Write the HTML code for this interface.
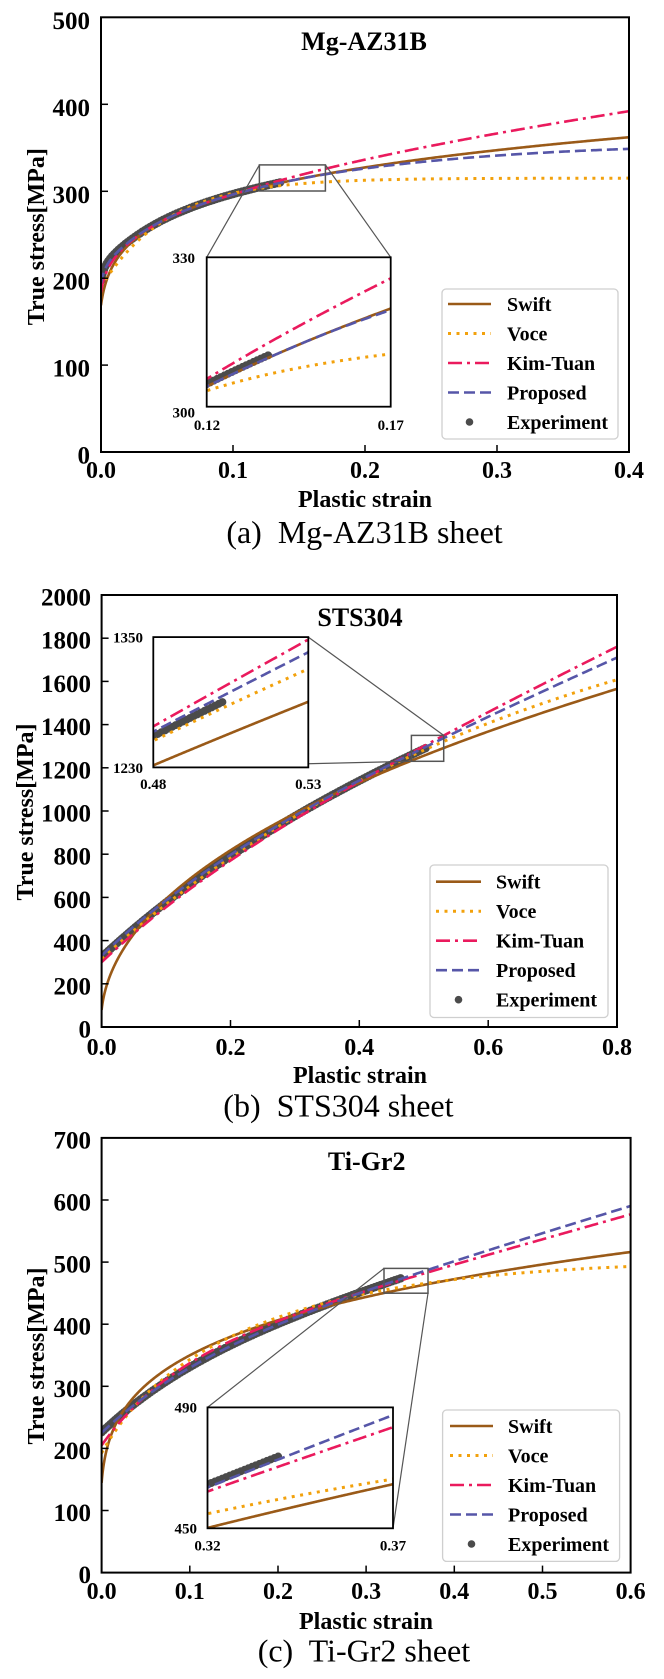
<!DOCTYPE html>
<html><head><meta charset="utf-8">
<style>
html,body{margin:0;padding:0;background:#fff;}
svg{display:block;}
text{font-family:"Liberation Serif","Times New Roman",serif;fill:#000;}
.b{font-weight:bold;}
.yt{font-size:25px;font-weight:bold;text-anchor:end;}
.xt{font-size:24px;font-weight:bold;text-anchor:middle;}
.al{font-size:24px;font-weight:bold;text-anchor:middle;}
.ti{font-size:26px;font-weight:bold;text-anchor:middle;}
.cap{font-size:32px;text-anchor:middle;white-space:pre;}
.it{font-size:15px;font-weight:bold;}
.lg{font-size:20px;font-weight:bold;}
</style></head>
<body>
<svg id="s" width="664" height="1679" viewBox="0 0 664 1679" xmlns="http://www.w3.org/2000/svg">
<defs>
<clipPath id="ca"><rect x="101" y="17.3" width="528" height="434.7"/></clipPath>
<clipPath id="cai"><rect x="206.7" y="257.3" width="184" height="149.4"/></clipPath>
<clipPath id="cb"><rect x="101.6" y="595" width="515.4" height="432"/></clipPath>
<clipPath id="cbi"><rect x="153.3" y="637.1" width="155" height="130.3"/></clipPath>
<clipPath id="cc"><rect x="101.6" y="1137.9" width="529" height="434.7"/></clipPath>
<clipPath id="cci"><rect x="207.5" y="1407.4" width="185.5" height="120.9"/></clipPath>
</defs>
<rect x="0" y="0" width="664" height="1679" fill="#fff"/>

<!-- ================= PANEL A ================= -->
<g id="ga" clip-path="url(#ca)"></g>
<rect x="101" y="17.3" width="528" height="434.7" fill="none" stroke="#000" stroke-width="2"/>
<g stroke="#000" stroke-width="1.5">
<line x1="233" y1="452" x2="233" y2="445"/><line x1="365" y1="452" x2="365" y2="445"/><line x1="497" y1="452" x2="497" y2="445"/>
<line x1="101" y1="104.3" x2="108" y2="104.3"/><line x1="101" y1="191.3" x2="108" y2="191.3"/><line x1="101" y1="278.2" x2="108" y2="278.2"/><line x1="101" y1="365.1" x2="108" y2="365.1"/>
</g>
<rect x="259.4" y="164.9" width="66" height="26.1" fill="none" stroke="#555" stroke-width="1.5"/>
<g stroke="#555" stroke-width="1.2">
<line x1="259.4" y1="164.9" x2="206.7" y2="257.3"/>
<line x1="325.4" y1="164.9" x2="390.7" y2="257.3"/>
</g>
<rect x="206.7" y="257.3" width="184" height="149.4" fill="#fff"/>
<g id="gai" clip-path="url(#cai)"></g>
<rect x="206.7" y="257.3" width="184" height="149.4" fill="none" stroke="#000" stroke-width="1.8"/>
<text class="it" x="195" y="263" text-anchor="end">330</text>
<text class="it" x="195" y="417.5" text-anchor="end">300</text>
<text class="it" x="207" y="430" text-anchor="middle">0.12</text>
<text class="it" x="390.7" y="430" text-anchor="middle">0.17</text>
<!-- legend a -->
<rect x="442" y="289" width="176" height="150" rx="4" fill="#fff" stroke="#cfcfcf" stroke-width="1.3"/>
<line x1="448" y1="304" x2="491" y2="304" stroke="#9a5a18" stroke-width="2.6"/>
<line x1="448" y1="333.5" x2="491" y2="333.5" stroke="#f2a10c" stroke-width="3" stroke-dasharray="3 5.5"/>
<line x1="448" y1="363" x2="491" y2="363" stroke="#ea1a5d" stroke-width="2.6" stroke-dasharray="14 5 3 5"/>
<line x1="448" y1="392.5" x2="491" y2="392.5" stroke="#5656a8" stroke-width="2.6" stroke-dasharray="11 5"/>
<circle cx="469.5" cy="422" r="3.8" fill="#4b4b4b"/>
<text class="lg" x="507" y="311">Swift</text>
<text class="lg" x="507" y="340.5">Voce</text>
<text class="lg" x="507" y="370">Kim-Tuan</text>
<text class="lg" x="507" y="399.5">Proposed</text>
<text class="lg" x="507" y="429">Experiment</text>
<!-- ticks labels a -->
<text class="yt" x="90" y="28.8">500</text>
<text class="yt" x="90" y="115.8">400</text>
<text class="yt" x="90" y="202.8">300</text>
<text class="yt" x="90" y="289.7">200</text>
<text class="yt" x="90" y="376.6">100</text>
<text class="yt" x="90" y="463.5">0</text>
<text class="xt" x="101" y="478">0.0</text>
<text class="xt" x="233" y="478">0.1</text>
<text class="xt" x="365" y="478">0.2</text>
<text class="xt" x="497" y="478">0.3</text>
<text class="xt" x="629" y="478">0.4</text>
<text class="al" x="365" y="507">Plastic strain</text>
<text class="al" transform="translate(44 236.7) rotate(-90)" x="0" y="0">True stress[MPa]</text>
<text class="ti" x="364" y="50">Mg-AZ31B</text>
<text class="cap" x="364.5" y="543">(a)  Mg-AZ31B sheet</text>

<!-- ================= PANEL B ================= -->
<g id="gb" clip-path="url(#cb)"></g>
<rect x="101.6" y="595" width="515.4" height="432" fill="none" stroke="#000" stroke-width="2"/>
<g stroke="#000" stroke-width="1.5">
<line x1="230.5" y1="1027" x2="230.5" y2="1020"/><line x1="359.3" y1="1027" x2="359.3" y2="1020"/><line x1="488.2" y1="1027" x2="488.2" y2="1020"/>
<line x1="101.6" y1="983.8" x2="108.6" y2="983.8"/><line x1="101.6" y1="940.6" x2="108.6" y2="940.6"/><line x1="101.6" y1="897.4" x2="108.6" y2="897.4"/>
<line x1="101.6" y1="854.2" x2="108.6" y2="854.2"/><line x1="101.6" y1="811" x2="108.6" y2="811"/><line x1="101.6" y1="767.8" x2="108.6" y2="767.8"/>
<line x1="101.6" y1="724.6" x2="108.6" y2="724.6"/><line x1="101.6" y1="681.4" x2="108.6" y2="681.4"/><line x1="101.6" y1="638.2" x2="108.6" y2="638.2"/>
</g>
<rect x="411.4" y="735.4" width="32.3" height="25.9" fill="none" stroke="#555" stroke-width="1.5"/>
<g stroke="#555" stroke-width="1.2">
<line x1="308.3" y1="637.1" x2="443.7" y2="735.4"/>
<line x1="153.3" y1="767.4" x2="411.4" y2="761.3"/>
</g>
<rect x="153.3" y="637.1" width="155" height="130.3" fill="#fff"/>
<g id="gbi" clip-path="url(#cbi)"></g>
<rect x="153.3" y="637.1" width="155" height="130.3" fill="none" stroke="#000" stroke-width="1.8"/>
<text class="it" x="143" y="642.5" text-anchor="end">1350</text>
<text class="it" x="143" y="773" text-anchor="end">1230</text>
<text class="it" x="153.3" y="789" text-anchor="middle">0.48</text>
<text class="it" x="308.3" y="789" text-anchor="middle">0.53</text>
<!-- legend b -->
<rect x="430" y="865" width="178" height="152.5" rx="4" fill="#fff" stroke="#cfcfcf" stroke-width="1.3"/>
<line x1="436" y1="881.7" x2="481" y2="881.7" stroke="#9a5a18" stroke-width="2.6"/>
<line x1="436" y1="911.2" x2="481" y2="911.2" stroke="#f2a10c" stroke-width="3" stroke-dasharray="3 5.5"/>
<line x1="436" y1="940.7" x2="481" y2="940.7" stroke="#ea1a5d" stroke-width="2.6" stroke-dasharray="14 5 3 5"/>
<line x1="436" y1="970.2" x2="481" y2="970.2" stroke="#5656a8" stroke-width="2.6" stroke-dasharray="11 5"/>
<circle cx="458.5" cy="999.7" r="3.8" fill="#4b4b4b"/>
<text class="lg" x="496" y="888.7">Swift</text>
<text class="lg" x="496" y="918.2">Voce</text>
<text class="lg" x="496" y="947.7">Kim-Tuan</text>
<text class="lg" x="496" y="977.2">Proposed</text>
<text class="lg" x="496" y="1006.7">Experiment</text>
<text class="yt" x="91" y="605.5">2000</text>
<text class="yt" x="91" y="648.7">1800</text>
<text class="yt" x="91" y="691.9">1600</text>
<text class="yt" x="91" y="735.1">1400</text>
<text class="yt" x="91" y="778.3">1200</text>
<text class="yt" x="91" y="821.5">1000</text>
<text class="yt" x="91" y="864.7">800</text>
<text class="yt" x="91" y="907.9">600</text>
<text class="yt" x="91" y="951.1">400</text>
<text class="yt" x="91" y="994.3">200</text>
<text class="yt" x="91" y="1037.5">0</text>
<text class="xt" x="101.6" y="1055">0.0</text>
<text class="xt" x="230.5" y="1055">0.2</text>
<text class="xt" x="359.3" y="1055">0.4</text>
<text class="xt" x="488.2" y="1055">0.6</text>
<text class="xt" x="617" y="1055">0.8</text>
<text class="al" x="360" y="1083">Plastic strain</text>
<text class="al" transform="translate(33 812) rotate(-90)" x="0" y="0">True stress[MPa]</text>
<text class="ti" x="360" y="626">STS304</text>
<text class="cap" x="338.4" y="1116.7">(b)  STS304 sheet</text>

<!-- ================= PANEL C ================= -->
<g id="gc" clip-path="url(#cc)"></g>
<rect x="101.6" y="1137.9" width="529" height="434.7" fill="none" stroke="#000" stroke-width="2"/>
<g stroke="#000" stroke-width="1.5">
<line x1="189.8" y1="1572.6" x2="189.8" y2="1565.6"/><line x1="278" y1="1572.6" x2="278" y2="1565.6"/><line x1="366.1" y1="1572.6" x2="366.1" y2="1565.6"/>
<line x1="454.3" y1="1572.6" x2="454.3" y2="1565.6"/><line x1="542.5" y1="1572.6" x2="542.5" y2="1565.6"/>
<line x1="101.6" y1="1510.5" x2="108.6" y2="1510.5"/><line x1="101.6" y1="1448.4" x2="108.6" y2="1448.4"/><line x1="101.6" y1="1386.3" x2="108.6" y2="1386.3"/>
<line x1="101.6" y1="1324.2" x2="108.6" y2="1324.2"/><line x1="101.6" y1="1262.1" x2="108.6" y2="1262.1"/><line x1="101.6" y1="1200" x2="108.6" y2="1200"/>
</g>
<rect x="384" y="1268.4" width="44" height="24.8" fill="none" stroke="#555" stroke-width="1.5"/>
<g stroke="#555" stroke-width="1.2">
<line x1="384" y1="1268.4" x2="207.5" y2="1407.4"/>
<line x1="428" y1="1293.2" x2="393" y2="1528.3"/>
</g>
<rect x="207.5" y="1407.4" width="185.5" height="120.9" fill="#fff"/>
<g id="gci" clip-path="url(#cci)"></g>
<rect x="207.5" y="1407.4" width="185.5" height="120.9" fill="none" stroke="#000" stroke-width="1.8"/>
<text class="it" x="197" y="1412.5" text-anchor="end">490</text>
<text class="it" x="197" y="1533.5" text-anchor="end">450</text>
<text class="it" x="207.5" y="1550.5" text-anchor="middle">0.32</text>
<text class="it" x="393" y="1550.5" text-anchor="middle">0.37</text>
<!-- legend c -->
<rect x="442.6" y="1410" width="177" height="151.4" rx="4" fill="#fff" stroke="#cfcfcf" stroke-width="1.3"/>
<line x1="450" y1="1426" x2="493" y2="1426" stroke="#9a5a18" stroke-width="2.6"/>
<line x1="450" y1="1455.5" x2="493" y2="1455.5" stroke="#f2a10c" stroke-width="3" stroke-dasharray="3 5.5"/>
<line x1="450" y1="1485" x2="493" y2="1485" stroke="#ea1a5d" stroke-width="2.6" stroke-dasharray="14 5 3 5"/>
<line x1="450" y1="1514.5" x2="493" y2="1514.5" stroke="#5656a8" stroke-width="2.6" stroke-dasharray="11 5"/>
<circle cx="471.5" cy="1544" r="3.8" fill="#4b4b4b"/>
<text class="lg" x="508" y="1433">Swift</text>
<text class="lg" x="508" y="1462.5">Voce</text>
<text class="lg" x="508" y="1492">Kim-Tuan</text>
<text class="lg" x="508" y="1521.5">Proposed</text>
<text class="lg" x="508" y="1551">Experiment</text>
<text class="yt" x="91" y="1148.4">700</text>
<text class="yt" x="91" y="1210.5">600</text>
<text class="yt" x="91" y="1272.6">500</text>
<text class="yt" x="91" y="1334.7">400</text>
<text class="yt" x="91" y="1396.8">300</text>
<text class="yt" x="91" y="1458.9">200</text>
<text class="yt" x="91" y="1521">100</text>
<text class="yt" x="91" y="1583.1">0</text>
<text class="xt" x="101.6" y="1599">0.0</text>
<text class="xt" x="189.8" y="1599">0.1</text>
<text class="xt" x="278" y="1599">0.2</text>
<text class="xt" x="366.1" y="1599">0.3</text>
<text class="xt" x="454.3" y="1599">0.4</text>
<text class="xt" x="542.5" y="1599">0.5</text>
<text class="xt" x="630.6" y="1599">0.6</text>
<text class="al" x="366" y="1629">Plastic strain</text>
<text class="al" transform="translate(44 1356) rotate(-90)" x="0" y="0">True stress[MPa]</text>
<text class="ti" x="366.7" y="1170">Ti-Gr2</text>
<text class="cap" x="363.9" y="1661.7">(c)  Ti-Gr2 sheet</text>
</svg>

<script>
(function(){
var NS='http://www.w3.org/2000/svg';
var E=Math.exp,P=Math.pow,M=Math.max;
var ST={
 S:{stroke:'#9a5a18',w:2.6,dash:null},
 V:{stroke:'#f2a10c',w:3,dash:'3 5.5'},
 K:{stroke:'#ea1a5d',w:2.6,dash:'14 5 3 5'},
 P:{stroke:'#5656a8',w:2.6,dash:'11 5'}
};
function Sa(e){return 413.7*P(0.0022+e,0.1465);}
function Sb(e){return 1737*P(0.0014+e,0.47);}
function Vb(e){return 2233-1916*E(-1.4*e);}
function Pb(e){return 330+350*(1-E(-4.46*e))+1300*e;}
function Sc(e){return 577*P(0.0018+e,0.219);}
function Pc(e){return 225+108*(1-E(-8.5*e))+430*e;}
var panels=[
 {g:'ga',gi:'gai',L:101,R:629,T:17.3,B:452,xm:0.4,ym:500,xe:0.137,
  I:{L:206.7,R:390.7,T:257.3,B:406.7,e0:0.12,e1:0.17,s0:300,s1:330},
  f:{S:Sa,
     V:function(e){return 315-125*E(-19.67*e);},
     K:function(e){return Sa(e)+112.8*P(M(0,e-0.1),1.1)+15*E(-e/0.01);},
     P:function(e){return Sa(e)-107*P(M(0,e-0.15),1.5)+25*E(-e/0.01);},
     X:function(e){return Sa(e)+0.5+28*E(-e/0.01);}}},
 {g:'gb',gi:'gbi',L:101.6,R:617,T:595,B:1027,xm:0.8,ym:2000,xe:0.503,
  I:{L:153.3,R:308.3,T:637.1,B:767.4,e0:0.48,e1:0.53,s0:1230,s1:1350},
  f:{S:Sb,V:Vb,
     K:function(e){return 300+310*(1-E(-4.36*e))+1450*e;},
     P:Pb,
     X:function(e){return 0.5*(Vb(e)+Pb(e));}}},
 {g:'gc',gi:'gci',L:101.6,R:630.6,T:1137.9,B:1572.6,xm:0.6,ym:700,xe:0.34,
  I:{L:207.5,R:393,T:1407.4,B:1528.3,e0:0.32,e1:0.37,s0:450,s1:490},
  f:{S:Sc,
     V:function(e){return 504.4-266.8*E(-5.26*e)-45*E(-e/0.04);},
     K:function(e){return 205+132*(1-E(-12*e))+400*e;},
     P:Pc,
     X:function(e){return Pc(e)+1;}}}
];
function build(fn,e0,e1,mx,my,n,sq){
 var d='';
 for(var i=0;i<=n;i++){
  var t=i/n; var e=sq? e0+(e1-e0)*t*t : e0+(e1-e0)*t;
  d+=(i?'L':'M')+mx(e).toFixed(2)+' '+my(fn(e)).toFixed(2);
 }
 return d;
}
function add(gid,d,stroke,w,dash,cap){
 var p=document.createElementNS(NS,'path');
 p.setAttribute('d',d);p.setAttribute('fill','none');
 p.setAttribute('stroke',stroke);p.setAttribute('stroke-width',w);
 if(dash)p.setAttribute('stroke-dasharray',dash);
 p.setAttribute('stroke-linecap',cap||'butt');
 p.setAttribute('stroke-linejoin','round');
 document.getElementById(gid).appendChild(p);
}
panels.forEach(function(pn){
 var mx=function(e){return pn.L+(pn.R-pn.L)*e/pn.xm;};
 var my=function(s){return pn.B-(pn.B-pn.T)*s/pn.ym;};
 add(pn.g,build(pn.f.X,0,pn.xe,mx,my,300,true),'#4b4b4b',8.5,'0 3','round');
 ['S','V','K','P'].forEach(function(k){
  var st=ST[k];
  add(pn.g,build(pn.f[k],0,pn.xm,mx,my,500,true),st.stroke,st.w,st.dash);
 });
 var I=pn.I;
 var ix=function(e){return I.L+(I.R-I.L)*(e-I.e0)/(I.e1-I.e0);};
 var iy=function(s){return I.B-(I.B-I.T)*(s-I.s0)/(I.s1-I.s0);};
 var ee=Math.min(pn.xe,I.e1+0.002);
 add(pn.gi,build(pn.f.X,I.e0-0.002,ee,ix,iy,120,false),'#4b4b4b',8,'0 4','round');
 ['S','V','K','P'].forEach(function(k){
  var st=ST[k];
  add(pn.gi,build(pn.f[k],I.e0-0.002,I.e1+0.002,ix,iy,150,false),st.stroke,st.w,st.dash);
 });
});
})();
</script>
</body></html>
